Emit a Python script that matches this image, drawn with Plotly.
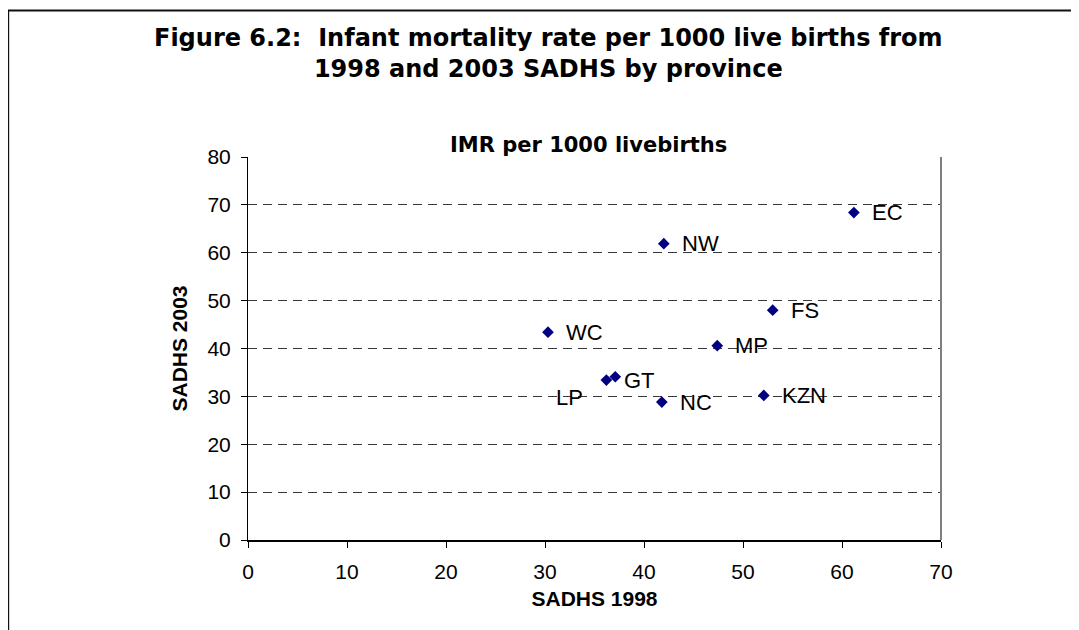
import plotly.graph_objects as go

# ---- data ----
provinces = ["EC", "FS", "GT", "KZN", "LP", "MP", "NC", "NW", "WC"]
sadhs_1998 = [61.2, 53.0, 36.2, 52.1, 37.1, 47.4, 41.8, 42.0, 30.3]
sadhs_2003 = [68.4, 48.0, 33.4, 30.2, 34.1, 40.6, 28.8, 61.9, 43.4]
x_ticks = [0, 10, 20, 30, 40, 50, 60, 70]
y_ticks = [0, 10, 20, 30, 40, 50, 60, 70, 80]

title_text = "Figure 6.2:  Infant mortality rate per 1000 live births from<br>1998 and 2003 SADHS by province"
subtitle_text = "IMR per 1000 livebirths"
x_title = "SADHS 1998"
y_title = "SADHS 2003"

# label offsets (style): default right of the marker; LP moved below-left
label_shift = {"LP": (-61, -21)}

ARIAL = "Liberation Sans, Arial, sans-serif"
WIDE_BOLD = "DejaVu Sans, Liberation Sans, Arial, sans-serif"

# page offset of the plot div (body margin)
OFF = 8
W, H = 1079 - OFF, 630 - OFF
# plot area in screen pixels
SL, SR, ST, SB = 248.3, 940.7, 157.3, 540.0
L, R, T, B = SL - OFF, SR - OFF, ST - OFF, SB - OFF


def px(xs):
    return (xs - SL) / (SR - SL)


def py(ys):
    return (SB - ys) / (SB - ST)


fig = go.Figure()
fig.add_trace(go.Scatter(
    x=sadhs_1998, y=sadhs_2003, mode="markers",
    marker=dict(symbol="diamond", size=9, color="#000080"),
    hoverinfo="skip", showlegend=False,
))

annotations = []
for name, xv, yv in zip(provinces, sadhs_1998, sadhs_2003):
    dx, dy = label_shift.get(name, (16, 0))
    annotations.append(dict(
        x=xv, y=yv, xref="x", yref="y", text=name, showarrow=False,
        xanchor="left", yanchor="middle", xshift=dx, yshift=dy,
        font=dict(family=ARIAL, size=22, color="black"),
    ))

annotations.append(dict(
    x=px(549), y=py(22), xref="paper", yref="paper", text=title_text,
    showarrow=False, xanchor="center", yanchor="top", align="center",
    font=dict(family=WIDE_BOLD, size=24, color="black", weight="bold"),
))
annotations.append(dict(
    x=px(589), y=py(145), xref="paper", yref="paper", text=subtitle_text,
    showarrow=False, xanchor="center", yanchor="middle",
    font=dict(family=WIDE_BOLD, size=21, color="black", weight="bold"),
))

fig.update_layout(
    width=W, height=H,
    margin=dict(l=L, r=W - R, t=T, b=H - B),
    paper_bgcolor="white", plot_bgcolor="white",
    showlegend=False,
    annotations=annotations,
)

fig.update_xaxes(
    range=[0, 70], tickvals=x_ticks, ticktext=[str(v) for v in x_ticks],
    showgrid=False, zeroline=False,
    showline=True, linecolor="black", linewidth=1.5,
    ticks="outside", ticklen=6, tickcolor="black", tickwidth=1,
    tickfont=dict(family=ARIAL, size=21, color="black"),
    ticklabelstandoff=6,
    title=dict(text=x_title, font=dict(family=ARIAL, size=21, color="black", weight="bold"), standoff=9),
    fixedrange=True,
)
fig.update_yaxes(
    range=[0, 80], tickvals=y_ticks, ticktext=[str(v) for v in y_ticks],
    showgrid=True, gridcolor="#383838", gridwidth=1, griddash="9px,6px",
    zeroline=False,
    showline=True, linecolor="black", linewidth=1,
    ticks="outside", ticklen=6, tickcolor="black", tickwidth=1,
    tickfont=dict(family=ARIAL, size=21, color="black"),
    ticklabelstandoff=6,
    title=dict(text=y_title, font=dict(family=ARIAL, size=21, color="black", weight="bold"), standoff=14),
    fixedrange=True,
)

shapes = [
    dict(type="line", xref="paper", yref="paper", x0=1, x1=1, y0=0, y1=1,
         line=dict(color="#808080", width=2)),
    dict(type="rect", xref="paper", yref="paper",
         x0=px(8.7), x1=px(1120), y0=py(670), y1=py(11),
         line=dict(color="#111111", width=2), fillcolor="rgba(0,0,0,0)", layer="above"),
]
fig.update_layout(shapes=shapes)

fig.write_html("out.html")
